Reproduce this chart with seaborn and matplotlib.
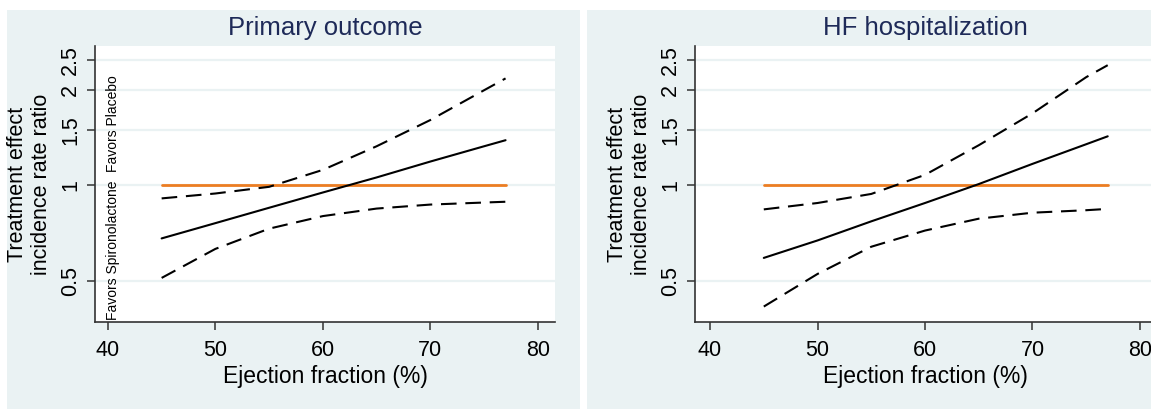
import numpy as np
import pandas as pd
import matplotlib
matplotlib.use("Agg")
import matplotlib.pyplot as plt
import seaborn as sns
from matplotlib.patches import Rectangle

sns.set_theme(style="white")
plt.rcParams['font.family'] = ['Liberation Sans', 'DejaVu Sans']

# ---- data ----
ef = [45, 50, 55, 60, 65, 70, 75, 77]

primary_est = [0.68, 0.76, 0.85, 0.95, 1.06, 1.19, 1.33, 1.39]
primary_upper = [0.91, 0.943, 0.99, 1.12, 1.33, 1.61, 2.0, 2.18]
primary_lower = [0.51, 0.63, 0.73, 0.80, 0.845, 0.87, 0.883, 0.888]

hf_est = [0.59, 0.67, 0.77, 0.88, 1.01, 1.17, 1.35, 1.43]
hf_upper = [0.84, 0.88, 0.94, 1.08, 1.34, 1.69, 2.2, 2.40]
hf_lower = [0.414, 0.525, 0.64, 0.72, 0.785, 0.82, 0.835, 0.843]

ref_x = [45, 77]
ref_y = [1, 1]

titles = ["Primary outcome", "HF hospitalization"]
yticks = [0.5, 1, 1.5, 2, 2.5]
ytick_labels = ["0.5", "1", "1.5", "2", "2.5"]
xticks = [40, 50, 60, 70, 80]
xlabel = "Ejection fraction (%)"
ylabel = "Treatment effect\nincidence rate ratio"

BG = "#eaf2f3"
W, H = 1151, 409
fig = plt.figure(figsize=(W / 100, H / 100), dpi=100, facecolor="white")

# Stata-like graph regions
fig.patches.append(Rectangle((7 / W, 0), (580 - 7) / W, (H - 10) / H,
                             transform=fig.transFigure, facecolor=BG, edgecolor="none", zorder=-10))
fig.patches.append(Rectangle((587 / W, 0), (W - 587) / W, (H - 10) / H,
                             transform=fig.transFigure, facecolor=BG, edgecolor="none", zorder=-10))

panels = [
    dict(left=95, xlim=(38.8, 81.6), est=primary_est, up=primary_upper, lo=primary_lower, favors=True),
    dict(left=695, xlim=(38.6, 81.4), est=hf_est, up=hf_upper, lo=hf_lower, favors=False),
]

for i, p in enumerate(panels):
    ax = fig.add_axes([p["left"] / W, (H - 322) / H, 460 / W, (322 - 46) / H])
    ax.set_facecolor("white")
    ax.set_yscale("log")
    ax.set_ylim(0.37, 2.76)
    ax.set_xlim(*p["xlim"])
    for t in yticks:
        ax.axhline(t, color=BG, lw=1.6, zorder=0)

    sns.lineplot(x=ref_x, y=ref_y, ax=ax, color="#ec7d22", lw=2.0, zorder=2)
    sns.lineplot(x=ef, y=p["est"], ax=ax, color="black", lw=1.5, zorder=3)
    sns.lineplot(x=ef, y=p["up"], ax=ax, color="black", lw=1.5, zorder=3)
    sns.lineplot(x=ef, y=p["lo"], ax=ax, color="black", lw=1.5, zorder=3)
    lines = ax.get_lines()
    lines[-1].set_dashes((7.5, 4.2))
    lines[-2].set_dashes((7.5, 4.2))

    ax.set_yticks(yticks)
    ax.set_yticklabels(ytick_labels, rotation=90, va="center")
    ax.yaxis.set_minor_locator(matplotlib.ticker.NullLocator())
    ax.set_xticks(xticks)
    ax.set_xticklabels([str(v) for v in xticks])
    ax.tick_params(axis="both", which="major", direction="out", length=6, width=1.1,
                   color="#333333", labelsize=15.5, labelcolor="black", pad=7)
    ax.tick_params(axis="y", pad=4)
    ax.tick_params(left=True, bottom=True)
    for s in ["top", "right"]:
        ax.spines[s].set_visible(False)
    for s in ["left", "bottom"]:
        ax.spines[s].set_color("#333333")
        ax.spines[s].set_linewidth(1.2)

    ax.set_title(titles[i], fontsize=18.5, color="#1e2a58", pad=8)
    ax.set_xlabel(xlabel, fontsize=16.5, color="black", labelpad=3)
    ax.set_ylabel(ylabel, fontsize=15.5, color="black", labelpad=6, linespacing=1.15)

    if p["favors"]:
        ax.text(40.5, 0.375, "Favors Spironolactone", rotation=90, ha="center", va="bottom",
                fontsize=10, color="black")
        ax.text(40.5, 1.1, "Favors Placebo", rotation=90, ha="center", va="bottom",
                fontsize=10, color="black")

fig.savefig("out.png", dpi=100, facecolor=fig.get_facecolor())
